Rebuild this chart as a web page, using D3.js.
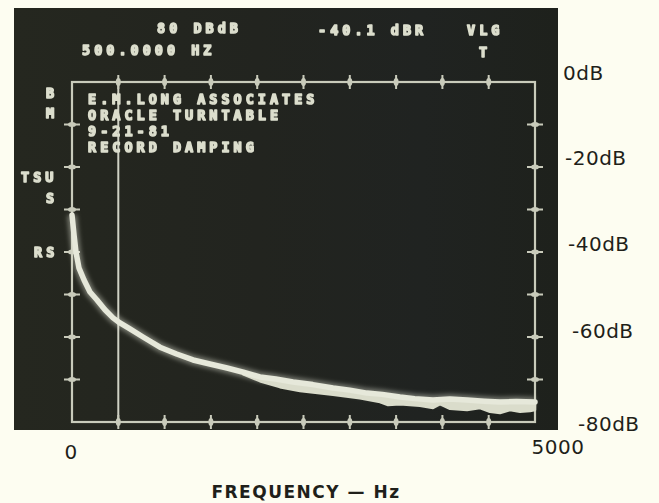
<!DOCTYPE html>
<html><head><meta charset="utf-8">
<script src="https://cdn.jsdelivr.net/npm/d3@7"></script>
<style>
html,body{margin:0;padding:0;background:#fdfdf1;}
svg{display:block;}
</style></head>
<body>
<script>
// ---------- data ----------
const freqDomain = [0, 5000];
const dbDomain = [-80, 0];
const xTickValues = [0, 500, 1000, 1500, 2000, 2500, 3000, 3500, 4000, 4500, 5000];
const yTickValues = [0, -10, -20, -30, -40, -50, -60, -70, -80];
const yLabelValues = [0, -20, -40, -60, -80];
const yLabelTexts = ["0dB", "-20dB", "-40dB", "-60dB", "-80dB"];
const xLabelValues = [0, 5000];
const xLabelTexts = ["0", "5000"];
const xTitle = "FREQUENCY — Hz";
const cursorFreq = 500;

// spectrum trace (Hz, dB)
const traceHz = [0, 22, 43, 76, 130, 194, 270, 356, 443, 518, 626, 767, 950, 1130, 1307, 1500, 1674, 1850, 2030, 2200, 2387, 2600, 2819, 3000, 3186, 3350, 3542, 3700, 3898, 4080, 4266, 4450, 4622, 4800, 5000];
const traceDb = [-31.3, -36.0, -40.0, -43.8, -46.6, -49.4, -51.3, -53.6, -55.5, -56.7, -58.1, -60.0, -62.4, -64.0, -65.4, -66.4, -67.3, -68.3, -69.4, -69.9, -70.6, -71.2, -72.0, -72.5, -73.2, -73.5, -74.1, -74.5, -74.8, -74.6, -74.8, -75.1, -75.3, -75.2, -75.3];
// noisy lower edge of the trace (Hz, dB)
const floorHz = [1850, 2030, 2246, 2462, 2819, 3110, 3326, 3413, 3542, 3758, 3899, 3974, 4082, 4266, 4406, 4514, 4622, 4730, 4838, 4946, 5000];
const floorDb = [-68.8, -70.4, -71.8, -72.7, -73.6, -74.4, -75.3, -76.0, -75.8, -76.2, -76.7, -75.8, -76.9, -77.2, -76.7, -77.6, -77.9, -77.2, -77.6, -77.4, -77.2];

// screen read-outs
const readoutTop = [
  {t: "80 DBdB", x: 157, y: 33},
  {t: "500.0000 HZ", x: 82, y: 55},
  {t: "-40.1 dBR", x: 318, y: 35},
  {t: "VLG", x: 467, y: 35},
  {t: "T", x: 479, y: 57}
];
const readoutLeft = [
  {t: "B", x: 46, y: 98},
  {t: "M", x: 46, y: 118},
  {t: "TSU", x: 21, y: 182},
  {t: "S", x: 46, y: 203},
  {t: "RS", x: 34, y: 257}
];
const notes = ["E.M.LONG ASSOCIATES", "ORACLE TURNTABLE", "9-21-81", "RECORD DAMPING"];

// ---------- layout ----------
const W = 659, H = 503;
const plot = {l: 72, r: 535, t: 82, b: 422};
const screen = {x: 14, y: 8, w: 544, h: 422};

const svg = d3.select("body").append("svg").attr("width", W).attr("height", H);
const defs = svg.append("defs");
const grad = defs.append("linearGradient").attr("id", "scr").attr("x1", 0).attr("x2", 1).attr("y1", 0).attr("y2", 0);
grad.append("stop").attr("offset", "0%").attr("stop-color", "#25271f");
grad.append("stop").attr("offset", "45%").attr("stop-color", "#22241f");
grad.append("stop").attr("offset", "75%").attr("stop-color", "#202321");
grad.append("stop").attr("offset", "100%").attr("stop-color", "#1e211c");
const glow = defs.append("filter").attr("id", "glow").attr("filterUnits", "userSpaceOnUse")
  .attr("x", 0).attr("y", 0).attr("width", W).attr("height", H);
glow.append("feGaussianBlur").attr("stdDeviation", 2.2);
const soft = defs.append("filter").attr("id", "soft").attr("filterUnits", "userSpaceOnUse")
  .attr("x", 0).attr("y", 0).attr("width", W).attr("height", H);
soft.append("feGaussianBlur").attr("stdDeviation", 0.55);

svg.append("rect").attr("width", W).attr("height", H).attr("fill", "#fdfdf1");
svg.append("rect").attr("x", screen.x).attr("y", screen.y).attr("width", screen.w).attr("height", screen.h).attr("fill", "url(#scr)");

const x = d3.scaleLinear().domain(freqDomain).range([plot.l, plot.r]);
const y = d3.scaleLinear().domain(dbDomain).range([plot.b, plot.t]);

const lineCol = "#c9cbbb";
const g = svg.append("g");

// frame
g.append("rect").attr("x", plot.l).attr("y", plot.t).attr("width", plot.r - plot.l).attr("height", plot.b - plot.t)
  .attr("fill", "none").attr("stroke", lineCol).attr("stroke-width", 2.2).attr("filter", "url(#soft)");

// cursor
g.append("line").attr("x1", x(cursorFreq)).attr("x2", x(cursorFreq)).attr("y1", plot.t).attr("y2", plot.b)
  .attr("stroke", "#cfd1c4").attr("stroke-width", 2).attr("filter", "url(#soft)");

// tick crosses
const innerX = xTickValues.filter(v => v > freqDomain[0] && v < freqDomain[1]);
const innerY = yTickValues.filter(v => v > dbDomain[0] && v < dbDomain[1]);
const ticks = g.append("g").attr("fill", lineCol).attr("stroke", lineCol).attr("filter", "url(#soft)");
[plot.t, plot.b].forEach(py => {
  innerX.forEach(v => {
    ticks.append("line").attr("x1", x(v)).attr("x2", x(v)).attr("y1", py - 7).attr("y2", py + 7).attr("stroke-width", 2);
    ticks.append("ellipse").attr("cx", x(v)).attr("cy", py).attr("rx", 2.5).attr("ry", 4).attr("stroke", "none");
  });
});
[plot.l, plot.r].forEach(px => {
  innerY.forEach(v => {
    ticks.append("line").attr("y1", y(v)).attr("y2", y(v)).attr("x1", px - 8).attr("x2", px + 8).attr("stroke-width", 2);
    ticks.append("ellipse").attr("cx", px).attr("cy", y(v)).attr("rx", 4).attr("ry", 2.5).attr("stroke", "none");
  });
});

// screen texts
const mono = "'DejaVu Sans Mono', 'Liberation Mono', monospace";
const txtCol = "#dcdecd";
const tg = svg.append("g").attr("font-family", mono).attr("font-weight", "bold").attr("font-size", 13.5)
  .attr("letter-spacing", 4.0).attr("fill", txtCol).attr("stroke", txtCol).attr("stroke-width", 1.5)
  .attr("stroke-linejoin", "round").attr("filter", "url(#soft)");
readoutTop.concat(readoutLeft).forEach(d => tg.append("text").attr("x", d.x).attr("y", d.y).text(d.t));
const noteBase = [104, 120, 136, 152];
notes.forEach((t, i) => tg.append("text").attr("x", 88).attr("y", noteBase[i]).text(t));

// trace
const line = d3.line().x(d => x(d[0])).y(d => y(d[1]));
const trace = traceHz.map((f, i) => [f, traceDb[i]]);
const floor = floorHz.map((f, i) => [f, floorDb[i]]);
const startIdx = trace.findIndex(d => d[0] >= floorHz[0]);
const band = trace.slice(startIdx).concat(floor.slice().reverse());

const tr = svg.append("g");
tr.append("path").attr("d", line(trace)).attr("fill", "none").attr("stroke", "#e8eadb").attr("stroke-width", 10)
  .attr("stroke-opacity", 0.4).attr("stroke-linejoin", "round").attr("filter", "url(#glow)");
tr.append("path").attr("d", line(band) + "Z").attr("fill", "#dadccb").attr("stroke", "#dadccb").attr("stroke-width", 2.5)
  .attr("stroke-linejoin", "round").attr("filter", "url(#soft)");
tr.append("path").attr("d", line(trace)).attr("fill", "none").attr("stroke", "#e6e8da").attr("stroke-width", 5.5)
  .attr("stroke-linejoin", "round").attr("stroke-linecap", "round").attr("filter", "url(#soft)");

// outer labels
const sans = "'DejaVu Sans', 'Noto Sans', sans-serif";
const lab = svg.append("g").attr("font-family", sans).attr("fill", "#1f1f1a").attr("font-size", 20).attr("letter-spacing", 0.5);
const yLabDx = [563, 565, 568, 572, 578];
const yLabDy = [-9.5, -9.5, -8, -6, 2];
yLabelValues.forEach((v, i) => {
  lab.append("text").attr("x", yLabDx[i]).attr("y", y(v) + yLabDy[i]).attr("dy", "0.36em").text(yLabelTexts[i]);
});
const xLabDy = [30, 25];
const xLabX = [x(xLabelValues[0]) - 1, 558];
xLabelValues.forEach((v, i) => {
  lab.append("text").attr("x", xLabX[i]).attr("y", plot.b + xLabDy[i]).attr("dy", "0.36em")
    .attr("text-anchor", "middle").text(xLabelTexts[i]);
});
svg.append("text").attr("x", 306).attr("y", 498).attr("text-anchor", "middle")
  .attr("font-family", sans).attr("font-weight", "bold").attr("font-size", 17).attr("letter-spacing", 1.5)
  .attr("fill", "#1f1f1a").text(xTitle);
</script>
</body></html>
